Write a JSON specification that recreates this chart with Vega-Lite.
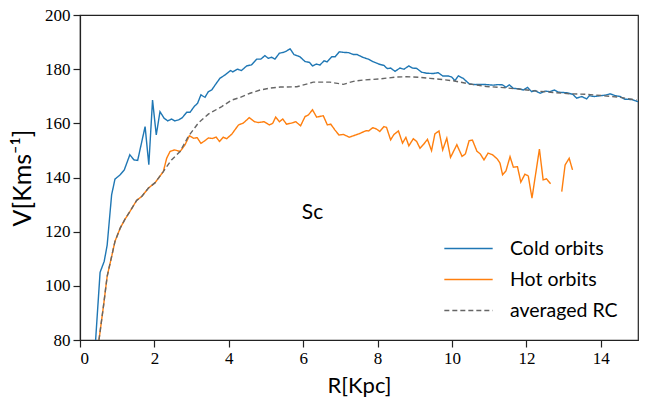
{
  "$schema": "https://vega.github.io/schema/vega-lite/v6.json",
  "width": 558,
  "height": 325,
  "autosize": {"type": "none"},
  "padding": {"left": 80, "top": 15, "right": 15, "bottom": 67},
  "background": "white",
  "config": {
    "view": {"stroke": "#222222", "strokeWidth": 1.2},
    "axis": {
      "domainColor": "#222222",
      "domainWidth": 1.2,
      "tickColor": "#222222",
      "tickWidth": 1.2,
      "grid": false,
      "labelFont": "Liberation Serif",
      "labelFontSize": 17,
      "labelColor": "black",
      "labelPadding": 3,
      "titleFont": "Lato",
      "titleFontWeight": "normal",
      "titleFontSize": 22,
      "titleColor": "black"
    },
    "legend": {
      "symbolType": "M-2.1,0H2.1",
      "symbolSize": 530,
      "symbolStrokeWidth": 1.5,
      "labelFont": "Lato",
      "labelFontSize": 19.5,
      "labelColor": "black",
      "labelOffset": 29,
      "rowPadding": 9,
      "padding": 0
    }
  },
  "datasets": {
    "curves": [
      {"R": 0.42, "V": 80, "s": "Cold orbits"},
      {"R": 0.54, "V": 105, "s": "Cold orbits"},
      {"R": 0.65, "V": 109, "s": "Cold orbits"},
      {"R": 0.73, "V": 115, "s": "Cold orbits"},
      {"R": 0.85, "V": 133.6, "s": "Cold orbits"},
      {"R": 0.94, "V": 139.4, "s": "Cold orbits"},
      {"R": 1.08, "V": 141, "s": "Cold orbits"},
      {"R": 1.19, "V": 142.8, "s": "Cold orbits"},
      {"R": 1.34, "V": 148.4, "s": "Cold orbits"},
      {"R": 1.45, "V": 146.5, "s": "Cold orbits"},
      {"R": 1.55, "V": 146.3, "s": "Cold orbits"},
      {"R": 1.75, "V": 158.8, "s": "Cold orbits"},
      {"R": 1.85, "V": 144.7, "s": "Cold orbits"},
      {"R": 1.95, "V": 168.6, "s": "Cold orbits"},
      {"R": 2.05, "V": 155.7, "s": "Cold orbits"},
      {"R": 2.15, "V": 164.3, "s": "Cold orbits"},
      {"R": 2.26, "V": 161.9, "s": "Cold orbits"},
      {"R": 2.36, "V": 160.9, "s": "Cold orbits"},
      {"R": 2.46, "V": 161.6, "s": "Cold orbits"},
      {"R": 2.55, "V": 160.9, "s": "Cold orbits"},
      {"R": 2.65, "V": 161.3, "s": "Cold orbits"},
      {"R": 2.75, "V": 162.1, "s": "Cold orbits"},
      {"R": 2.87, "V": 164.1, "s": "Cold orbits"},
      {"R": 2.96, "V": 164.1, "s": "Cold orbits"},
      {"R": 3.07, "V": 166.2, "s": "Cold orbits"},
      {"R": 3.16, "V": 167.4, "s": "Cold orbits"},
      {"R": 3.25, "V": 170.5, "s": "Cold orbits"},
      {"R": 3.36, "V": 169.6, "s": "Cold orbits"},
      {"R": 3.45, "V": 171.7, "s": "Cold orbits"},
      {"R": 3.54, "V": 172.3, "s": "Cold orbits"},
      {"R": 3.64, "V": 174.3, "s": "Cold orbits"},
      {"R": 3.76, "V": 176.6, "s": "Cold orbits"},
      {"R": 3.9, "V": 177.9, "s": "Cold orbits"},
      {"R": 4.05, "V": 179.5, "s": "Cold orbits"},
      {"R": 4.11, "V": 179.0, "s": "Cold orbits"},
      {"R": 4.23, "V": 180.0, "s": "Cold orbits"},
      {"R": 4.34, "V": 179.5, "s": "Cold orbits"},
      {"R": 4.48, "V": 181.2, "s": "Cold orbits"},
      {"R": 4.61, "V": 181.6, "s": "Cold orbits"},
      {"R": 4.75, "V": 183.7, "s": "Cold orbits"},
      {"R": 4.86, "V": 183.7, "s": "Cold orbits"},
      {"R": 4.97, "V": 185.0, "s": "Cold orbits"},
      {"R": 5.06, "V": 184.0, "s": "Cold orbits"},
      {"R": 5.15, "V": 184.4, "s": "Cold orbits"},
      {"R": 5.24, "V": 183.7, "s": "Cold orbits"},
      {"R": 5.36, "V": 185.9, "s": "Cold orbits"},
      {"R": 5.47, "V": 186.2, "s": "Cold orbits"},
      {"R": 5.54, "V": 186.6, "s": "Cold orbits"},
      {"R": 5.65, "V": 187.5, "s": "Cold orbits"},
      {"R": 5.75, "V": 185.4, "s": "Cold orbits"},
      {"R": 5.91, "V": 184.6, "s": "Cold orbits"},
      {"R": 6.05, "V": 182.8, "s": "Cold orbits"},
      {"R": 6.17, "V": 182.5, "s": "Cold orbits"},
      {"R": 6.25, "V": 181.2, "s": "Cold orbits"},
      {"R": 6.36, "V": 181.9, "s": "Cold orbits"},
      {"R": 6.45, "V": 181.5, "s": "Cold orbits"},
      {"R": 6.56, "V": 183.1, "s": "Cold orbits"},
      {"R": 6.64, "V": 182.7, "s": "Cold orbits"},
      {"R": 6.77, "V": 184.6, "s": "Cold orbits"},
      {"R": 6.86, "V": 184.6, "s": "Cold orbits"},
      {"R": 6.97, "V": 186.4, "s": "Cold orbits"},
      {"R": 7.08, "V": 186.2, "s": "Cold orbits"},
      {"R": 7.22, "V": 186.1, "s": "Cold orbits"},
      {"R": 7.35, "V": 185.4, "s": "Cold orbits"},
      {"R": 7.45, "V": 185.4, "s": "Cold orbits"},
      {"R": 7.6, "V": 184.4, "s": "Cold orbits"},
      {"R": 7.75, "V": 183.7, "s": "Cold orbits"},
      {"R": 7.89, "V": 182.7, "s": "Cold orbits"},
      {"R": 8.05, "V": 181.8, "s": "Cold orbits"},
      {"R": 8.17, "V": 181.4, "s": "Cold orbits"},
      {"R": 8.26, "V": 180.2, "s": "Cold orbits"},
      {"R": 8.35, "V": 180.4, "s": "Cold orbits"},
      {"R": 8.47, "V": 179.2, "s": "Cold orbits"},
      {"R": 8.6, "V": 180.4, "s": "Cold orbits"},
      {"R": 8.71, "V": 180.0, "s": "Cold orbits"},
      {"R": 8.84, "V": 181.2, "s": "Cold orbits"},
      {"R": 8.94, "V": 180.4, "s": "Cold orbits"},
      {"R": 9.05, "V": 180.3, "s": "Cold orbits"},
      {"R": 9.18, "V": 178.9, "s": "Cold orbits"},
      {"R": 9.32, "V": 178.5, "s": "Cold orbits"},
      {"R": 9.5, "V": 178.4, "s": "Cold orbits"},
      {"R": 9.63, "V": 178.7, "s": "Cold orbits"},
      {"R": 9.75, "V": 177.5, "s": "Cold orbits"},
      {"R": 9.9, "V": 177.5, "s": "Cold orbits"},
      {"R": 9.99, "V": 177.1, "s": "Cold orbits"},
      {"R": 10.08, "V": 175.8, "s": "Cold orbits"},
      {"R": 10.17, "V": 177.5, "s": "Cold orbits"},
      {"R": 10.3, "V": 176.6, "s": "Cold orbits"},
      {"R": 10.47, "V": 174.5, "s": "Cold orbits"},
      {"R": 10.62, "V": 174.3, "s": "Cold orbits"},
      {"R": 10.75, "V": 174.4, "s": "Cold orbits"},
      {"R": 10.93, "V": 174.3, "s": "Cold orbits"},
      {"R": 11.11, "V": 174.1, "s": "Cold orbits"},
      {"R": 11.24, "V": 174.3, "s": "Cold orbits"},
      {"R": 11.36, "V": 174.2, "s": "Cold orbits"},
      {"R": 11.45, "V": 173.3, "s": "Cold orbits"},
      {"R": 11.54, "V": 174.2, "s": "Cold orbits"},
      {"R": 11.65, "V": 172.9, "s": "Cold orbits"},
      {"R": 11.78, "V": 172.8, "s": "Cold orbits"},
      {"R": 11.92, "V": 172.3, "s": "Cold orbits"},
      {"R": 12.03, "V": 173.3, "s": "Cold orbits"},
      {"R": 12.14, "V": 171.7, "s": "Cold orbits"},
      {"R": 12.23, "V": 172.1, "s": "Cold orbits"},
      {"R": 12.37, "V": 171.1, "s": "Cold orbits"},
      {"R": 12.5, "V": 171.9, "s": "Cold orbits"},
      {"R": 12.63, "V": 171.7, "s": "Cold orbits"},
      {"R": 12.75, "V": 172.3, "s": "Cold orbits"},
      {"R": 12.86, "V": 171.5, "s": "Cold orbits"},
      {"R": 13.08, "V": 171.3, "s": "Cold orbits"},
      {"R": 13.25, "V": 170.7, "s": "Cold orbits"},
      {"R": 13.35, "V": 169.3, "s": "Cold orbits"},
      {"R": 13.49, "V": 169.9, "s": "Cold orbits"},
      {"R": 13.62, "V": 169.0, "s": "Cold orbits"},
      {"R": 13.69, "V": 170.2, "s": "Cold orbits"},
      {"R": 13.82, "V": 169.9, "s": "Cold orbits"},
      {"R": 13.98, "V": 170.2, "s": "Cold orbits"},
      {"R": 14.12, "V": 170.4, "s": "Cold orbits"},
      {"R": 14.25, "V": 170.9, "s": "Cold orbits"},
      {"R": 14.39, "V": 170.2, "s": "Cold orbits"},
      {"R": 14.52, "V": 169.9, "s": "Cold orbits"},
      {"R": 14.65, "V": 168.9, "s": "Cold orbits"},
      {"R": 14.83, "V": 168.8, "s": "Cold orbits"},
      {"R": 15.0, "V": 168.0, "s": "Cold orbits"},

      {"R": 0.51, "V": 80, "s": "Hot orbits"},
      {"R": 0.63, "V": 92.4, "s": "Hot orbits"},
      {"R": 0.73, "V": 103.5, "s": "Hot orbits"},
      {"R": 0.85, "V": 110.8, "s": "Hot orbits"},
      {"R": 0.94, "V": 116.4, "s": "Hot orbits"},
      {"R": 1.08, "V": 121.3, "s": "Hot orbits"},
      {"R": 1.21, "V": 124.6, "s": "Hot orbits"},
      {"R": 1.34, "V": 127.4, "s": "Hot orbits"},
      {"R": 1.52, "V": 131.5, "s": "Hot orbits"},
      {"R": 1.66, "V": 133.0, "s": "Hot orbits"},
      {"R": 1.84, "V": 136.1, "s": "Hot orbits"},
      {"R": 2.02, "V": 138.1, "s": "Hot orbits"},
      {"R": 2.24, "V": 142.2, "s": "Hot orbits"},
      {"R": 2.33, "V": 147.1, "s": "Hot orbits"},
      {"R": 2.42, "V": 149.6, "s": "Hot orbits"},
      {"R": 2.54, "V": 150.2, "s": "Hot orbits"},
      {"R": 2.69, "V": 149.6, "s": "Hot orbits"},
      {"R": 2.82, "V": 152.0, "s": "Hot orbits"},
      {"R": 2.94, "V": 155.4, "s": "Hot orbits"},
      {"R": 3.05, "V": 154.5, "s": "Hot orbits"},
      {"R": 3.15, "V": 154.7, "s": "Hot orbits"},
      {"R": 3.25, "V": 152.6, "s": "Hot orbits"},
      {"R": 3.36, "V": 153.6, "s": "Hot orbits"},
      {"R": 3.45, "V": 154.6, "s": "Hot orbits"},
      {"R": 3.56, "V": 154.4, "s": "Hot orbits"},
      {"R": 3.66, "V": 154.9, "s": "Hot orbits"},
      {"R": 3.75, "V": 153.3, "s": "Hot orbits"},
      {"R": 3.85, "V": 154.9, "s": "Hot orbits"},
      {"R": 3.94, "V": 154.3, "s": "Hot orbits"},
      {"R": 4.08, "V": 156.0, "s": "Hot orbits"},
      {"R": 4.26, "V": 159.4, "s": "Hot orbits"},
      {"R": 4.39, "V": 160.1, "s": "Hot orbits"},
      {"R": 4.55, "V": 162.1, "s": "Hot orbits"},
      {"R": 4.69, "V": 160.6, "s": "Hot orbits"},
      {"R": 4.79, "V": 160.3, "s": "Hot orbits"},
      {"R": 4.95, "V": 160.6, "s": "Hot orbits"},
      {"R": 5.09, "V": 159.4, "s": "Hot orbits"},
      {"R": 5.18, "V": 160.0, "s": "Hot orbits"},
      {"R": 5.26, "V": 162.3, "s": "Hot orbits"},
      {"R": 5.36, "V": 160.6, "s": "Hot orbits"},
      {"R": 5.45, "V": 161.6, "s": "Hot orbits"},
      {"R": 5.55, "V": 159.7, "s": "Hot orbits"},
      {"R": 5.69, "V": 160.1, "s": "Hot orbits"},
      {"R": 5.8, "V": 160.6, "s": "Hot orbits"},
      {"R": 5.93, "V": 159.1, "s": "Hot orbits"},
      {"R": 6.05, "V": 162.5, "s": "Hot orbits"},
      {"R": 6.14, "V": 163.1, "s": "Hot orbits"},
      {"R": 6.25, "V": 165.0, "s": "Hot orbits"},
      {"R": 6.36, "V": 162.3, "s": "Hot orbits"},
      {"R": 6.54, "V": 162.8, "s": "Hot orbits"},
      {"R": 6.65, "V": 159.4, "s": "Hot orbits"},
      {"R": 6.74, "V": 159.7, "s": "Hot orbits"},
      {"R": 6.85, "V": 157.6, "s": "Hot orbits"},
      {"R": 6.96, "V": 155.7, "s": "Hot orbits"},
      {"R": 7.08, "V": 155.9, "s": "Hot orbits"},
      {"R": 7.24, "V": 154.9, "s": "Hot orbits"},
      {"R": 7.39, "V": 155.6, "s": "Hot orbits"},
      {"R": 7.53, "V": 156.3, "s": "Hot orbits"},
      {"R": 7.69, "V": 157.3, "s": "Hot orbits"},
      {"R": 7.76, "V": 157.2, "s": "Hot orbits"},
      {"R": 7.87, "V": 158.4, "s": "Hot orbits"},
      {"R": 7.97, "V": 157.9, "s": "Hot orbits"},
      {"R": 8.06, "V": 157.0, "s": "Hot orbits"},
      {"R": 8.17, "V": 158.8, "s": "Hot orbits"},
      {"R": 8.24, "V": 158.5, "s": "Hot orbits"},
      {"R": 8.35, "V": 153.9, "s": "Hot orbits"},
      {"R": 8.44, "V": 155.9, "s": "Hot orbits"},
      {"R": 8.56, "V": 157.2, "s": "Hot orbits"},
      {"R": 8.67, "V": 152.7, "s": "Hot orbits"},
      {"R": 8.76, "V": 154.8, "s": "Hot orbits"},
      {"R": 8.84, "V": 151.7, "s": "Hot orbits"},
      {"R": 8.96, "V": 154.3, "s": "Hot orbits"},
      {"R": 9.05, "V": 153.3, "s": "Hot orbits"},
      {"R": 9.14, "V": 150.8, "s": "Hot orbits"},
      {"R": 9.24, "V": 152.3, "s": "Hot orbits"},
      {"R": 9.34, "V": 154.1, "s": "Hot orbits"},
      {"R": 9.45, "V": 149.9, "s": "Hot orbits"},
      {"R": 9.54, "V": 156.1, "s": "Hot orbits"},
      {"R": 9.65, "V": 157.2, "s": "Hot orbits"},
      {"R": 9.75, "V": 150.2, "s": "Hot orbits"},
      {"R": 9.86, "V": 154.5, "s": "Hot orbits"},
      {"R": 9.96, "V": 147.4, "s": "Hot orbits"},
      {"R": 10.13, "V": 152.1, "s": "Hot orbits"},
      {"R": 10.27, "V": 147.8, "s": "Hot orbits"},
      {"R": 10.36, "V": 148.7, "s": "Hot orbits"},
      {"R": 10.46, "V": 153.6, "s": "Hot orbits"},
      {"R": 10.55, "V": 153.8, "s": "Hot orbits"},
      {"R": 10.67, "V": 149.7, "s": "Hot orbits"},
      {"R": 10.76, "V": 148.7, "s": "Hot orbits"},
      {"R": 10.86, "V": 146.5, "s": "Hot orbits"},
      {"R": 10.97, "V": 149.0, "s": "Hot orbits"},
      {"R": 11.09, "V": 148.4, "s": "Hot orbits"},
      {"R": 11.22, "V": 146.8, "s": "Hot orbits"},
      {"R": 11.29, "V": 145.3, "s": "Hot orbits"},
      {"R": 11.36, "V": 141.0, "s": "Hot orbits"},
      {"R": 11.45, "V": 142.4, "s": "Hot orbits"},
      {"R": 11.56, "V": 147.7, "s": "Hot orbits"},
      {"R": 11.65, "V": 143.8, "s": "Hot orbits"},
      {"R": 11.76, "V": 144.0, "s": "Hot orbits"},
      {"R": 11.85, "V": 138.3, "s": "Hot orbits"},
      {"R": 11.96, "V": 141.2, "s": "Hot orbits"},
      {"R": 12.05, "V": 140.6, "s": "Hot orbits"},
      {"R": 12.15, "V": 132.4, "s": "Hot orbits"},
      {"R": 12.35, "V": 150.5, "s": "Hot orbits"},
      {"R": 12.45, "V": 139.1, "s": "Hot orbits"},
      {"R": 12.54, "V": 139.5, "s": "Hot orbits"},
      {"R": 12.65, "V": 137.7, "s": "Hot orbits"},
      {"R": 12.8, "V": null, "s": "Hot orbits"},
      {"R": 12.95, "V": 134.8, "s": "Hot orbits"},
      {"R": 13.04, "V": 144.6, "s": "Hot orbits"},
      {"R": 13.15, "V": 147.1, "s": "Hot orbits"},
      {"R": 13.24, "V": 142.8, "s": "Hot orbits"},

      {"R": 0.51, "V": 80, "s": "averaged RC"},
      {"R": 0.63, "V": 92.4, "s": "averaged RC"},
      {"R": 0.73, "V": 103.5, "s": "averaged RC"},
      {"R": 0.85, "V": 110.8, "s": "averaged RC"},
      {"R": 0.94, "V": 116.4, "s": "averaged RC"},
      {"R": 1.08, "V": 121.3, "s": "averaged RC"},
      {"R": 1.21, "V": 124.6, "s": "averaged RC"},
      {"R": 1.34, "V": 127.4, "s": "averaged RC"},
      {"R": 1.52, "V": 131.5, "s": "averaged RC"},
      {"R": 1.66, "V": 133.0, "s": "averaged RC"},
      {"R": 1.84, "V": 136.1, "s": "averaged RC"},
      {"R": 2.02, "V": 138.1, "s": "averaged RC"},
      {"R": 2.24, "V": 142.2, "s": "averaged RC"},
      {"R": 2.46, "V": 146.5, "s": "averaged RC"},
      {"R": 2.69, "V": 149.6, "s": "averaged RC"},
      {"R": 2.91, "V": 155.1, "s": "averaged RC"},
      {"R": 3.18, "V": 160.1, "s": "averaged RC"},
      {"R": 3.45, "V": 163.4, "s": "averaged RC"},
      {"R": 3.81, "V": 166.2, "s": "averaged RC"},
      {"R": 4.08, "V": 168.6, "s": "averaged RC"},
      {"R": 4.29, "V": 169.5, "s": "averaged RC"},
      {"R": 4.57, "V": 171.1, "s": "averaged RC"},
      {"R": 4.84, "V": 172.3, "s": "averaged RC"},
      {"R": 5.11, "V": 173.0, "s": "averaged RC"},
      {"R": 5.38, "V": 173.4, "s": "averaged RC"},
      {"R": 5.83, "V": 173.5, "s": "averaged RC"},
      {"R": 6.09, "V": 174.5, "s": "averaged RC"},
      {"R": 6.27, "V": 175.2, "s": "averaged RC"},
      {"R": 6.72, "V": 175.2, "s": "averaged RC"},
      {"R": 7.08, "V": 174.4, "s": "averaged RC"},
      {"R": 7.35, "V": 175.5, "s": "averaged RC"},
      {"R": 7.62, "V": 176.0, "s": "averaged RC"},
      {"R": 8.06, "V": 176.4, "s": "averaged RC"},
      {"R": 8.51, "V": 177.1, "s": "averaged RC"},
      {"R": 8.78, "V": 177.2, "s": "averaged RC"},
      {"R": 9.14, "V": 177.0, "s": "averaged RC"},
      {"R": 9.41, "V": 176.6, "s": "averaged RC"},
      {"R": 9.66, "V": 176.3, "s": "averaged RC"},
      {"R": 10.04, "V": 175.7, "s": "averaged RC"},
      {"R": 10.48, "V": 174.5, "s": "averaged RC"},
      {"R": 10.93, "V": 173.6, "s": "averaged RC"},
      {"R": 11.38, "V": 173.2, "s": "averaged RC"},
      {"R": 11.83, "V": 172.6, "s": "averaged RC"},
      {"R": 12.28, "V": 171.9, "s": "averaged RC"},
      {"R": 12.72, "V": 171.4, "s": "averaged RC"},
      {"R": 13.17, "V": 170.9, "s": "averaged RC"},
      {"R": 13.62, "V": 170.7, "s": "averaged RC"},
      {"R": 14.06, "V": 170.2, "s": "averaged RC"},
      {"R": 14.52, "V": 169.6, "s": "averaged RC"},
      {"R": 14.96, "V": 168.6, "s": "averaged RC"}
    ]
  },
  "layer": [
    {
      "data": {"name": "curves"},
      "mark": {"type": "line", "strokeWidth": 1.4, "clip": true, "invalid": "break-paths-filter-domains"},
      "encoding": {
        "x": {
          "field": "R",
          "type": "quantitative",
          "scale": {"domain": [0, 15], "nice": false, "zero": false},
          "axis": {
            "title": "R[Kpc]",
            "titlePadding": 9,
            "values": [0, 0.5, 1, 1.5, 2, 2.5, 3, 3.5, 4, 4.5, 5, 5.5, 6, 6.5, 7, 7.5, 8, 8.5, 9, 9.5, 10, 10.5, 11, 11.5, 12, 12.5, 13, 13.5, 14, 14.5, 15],
            "labelExpr": "datum.value % 2 === 0 ? '' + datum.value : ''",
            "tickSize": {"condition": {"test": "datum.value % 2 === 0", "value": 7}, "value": 4}
          }
        },
        "y": {
          "field": "V",
          "type": "quantitative",
          "scale": {"domain": [80, 200], "nice": false, "zero": false},
          "axis": {
            "title": "V[Kms⁻¹]",
            "titleFontSize": 25,
            "titlePadding": 9,
            "values": [80, 85, 90, 95, 100, 105, 110, 115, 120, 125, 130, 135, 140, 145, 150, 155, 160, 165, 170, 175, 180, 185, 190, 195, 200],
            "labelExpr": "datum.value % 20 === 0 ? '' + datum.value : ''",
            "tickSize": {"condition": {"test": "datum.value % 20 === 0", "value": 7}, "value": 4}
          }
        },
        "color": {
          "field": "s",
          "type": "nominal",
          "scale": {"domain": ["Cold orbits", "Hot orbits", "averaged RC"], "range": ["#1f77b4", "#ff7f0e", "#666666"]},
          "legend": {"title": null, "orient": "bottom-right", "offset": 20}
        },
        "strokeDash": {
          "field": "s",
          "type": "nominal",
          "scale": {"domain": ["Cold orbits", "Hot orbits", "averaged RC"], "range": [[1, 0], [1, 0], [5, 3]]},
          "legend": {"title": null, "orient": "bottom-right", "offset": 20}
        }
      }
    },
    {
      "data": {"values": [{"R": 6.25, "V": 127, "label": "Sc"}]},
      "mark": {"type": "text", "font": "Lato", "fontSize": 21, "color": "black", "align": "center", "baseline": "middle"},
      "encoding": {
        "x": {"field": "R", "type": "quantitative"},
        "y": {"field": "V", "type": "quantitative"},
        "text": {"field": "label"}
      }
    }
  ]
}
